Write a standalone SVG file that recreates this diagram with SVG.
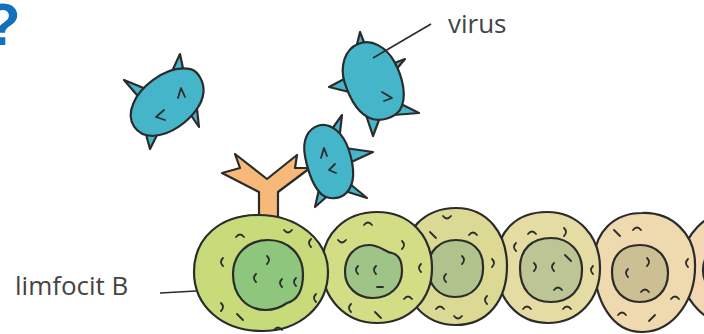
<svg xmlns="http://www.w3.org/2000/svg" xmlns:xlink="http://www.w3.org/1999/xlink" width="704" height="334" viewBox="0 0 704 334">
  <style>
    .ink { stroke: #2b2b2b; stroke-width: 2.2; stroke-linejoin: round; stroke-linecap: round; }
    .mark { fill: none; stroke: #2b2b2b; stroke-width: 1.8; stroke-linecap: round; stroke-linejoin: round; }
    .virus { fill: #45b6ca; }
    .lbl { font-family: "Open Sans", "Liberation Sans", sans-serif; font-size: 26px; fill: #444; }
    .lead { fill: none; stroke: #2b2b2b; stroke-width: 1.6; }
  </style>
  <defs>
    <!-- small hand-drawn granule strokes -->
    <path id="up" d="M-4,2 Q0,-3 4,2"/>
    <path id="dn" d="M-4,-2 Q0,3 4,-2"/>
    <path id="lp" d="M1,-4 Q-3,0 1,4"/>
    <path id="rp" d="M-1,-4 Q3,0 -1,4"/>
    <path id="sl" d="M-3,-3 L3,3"/>
    <path id="bs" d="M3,-3 L-3,3"/>
    <path id="dash" d="M-3,0 L3,0"/>
  </defs>

  <rect width="704" height="334" fill="#ffffff"/>

  <!-- question mark, cropped at the left edge -->
  <g id="question">
    <text x="-16" y="45" font-family="Liberation Sans, Arial, sans-serif" font-weight="bold" font-size="60" fill="#1470b8">?</text>
  </g>

  <!-- row of B lymphocytes, drawn right to left so the left cell is on top -->
  <g id="cell6">
    <ellipse class="ink" cx="737" cy="268" rx="56" ry="58" fill="#f2d7b2"/>
    <ellipse class="ink" cx="732" cy="270" rx="29" ry="28" fill="#d4c29c"/>
  </g>
  <g id="cell5">
    <path class="ink" fill="#efd9ae" d="M594,262 C594,232 614,213 642,213 C672,212 695,234 695,264 C696,298 675,331 643,332 C612,333 594,300 594,262 Z"/>
    <path class="ink" fill="#ccbf94" d="M612,272 C612,254 624,245 640,245 C657,245 668,257 668,273 C668,291 656,302 640,302 C623,302 612,290 612,272 Z"/>
    <g class="mark">
      <use xlink:href="#sl" x="617" y="233"/>
      <use xlink:href="#up" x="637" y="228"/>
      <use xlink:href="#lp" x="687" y="263"/>
      <use xlink:href="#up" x="675" y="297"/>
      <use xlink:href="#up" x="622" y="313"/>
      <use xlink:href="#bs" x="652" y="318"/>
      <use xlink:href="#lp" x="627" y="273"/>
      <use xlink:href="#rp" x="648" y="262"/>
      <use xlink:href="#up" x="645" y="290"/>
    </g>
  </g>
  <g id="cell4">
    <path class="ink" fill="#e4dca3" d="M496,264 C496,232 516,212 547,212 C578,212 600,236 600,268 C600,300 578,323 548,323 C517,323 496,298 496,264 Z"/>
    <path class="ink" fill="#bec595" d="M520,268 C520,249 532,238 551,238 C570,238 582,252 582,270 C582,290 570,302 551,302 C531,302 520,289 520,268 Z"/>
    <g class="mark">
      <use xlink:href="#up" x="532" y="232"/>
      <use xlink:href="#rp" x="565" y="232"/>
      <use xlink:href="#lp" x="515" y="247"/>
      <use xlink:href="#lp" x="592" y="270"/>
      <use xlink:href="#up" x="527" y="307"/>
      <use xlink:href="#up" x="567" y="307"/>
      <use xlink:href="#rp" x="535" y="267"/>
      <use xlink:href="#lp" x="553" y="267"/>
      <use xlink:href="#sl" x="568" y="258"/>
      <use xlink:href="#up" x="558" y="288"/>
    </g>
  </g>
  <g id="cell3">
    <path class="ink" fill="#dcd994" d="M402,265 C402,230 425,208 456,208 C488,208 507,234 507,266 C507,300 488,325 456,325 C423,325 402,298 402,265 Z"/>
    <path class="ink" fill="#b1c38c" d="M428,268 C428,251 440,240 456,240 C472,240 483,250 483,266 C484,285 472,297 455,297 C439,297 428,285 428,268 Z"/>
    <g class="mark">
      <use xlink:href="#dn" x="447" y="218"/>
      <use xlink:href="#sl" x="433" y="235"/>
      <use xlink:href="#up" x="473" y="233"/>
      <use xlink:href="#rp" x="493" y="263"/>
      <use xlink:href="#lp" x="486" y="300"/>
      <use xlink:href="#up" x="440" y="307"/>
      <use xlink:href="#dn" x="458" y="318"/>
      <use xlink:href="#rp" x="463" y="260"/>
      <use xlink:href="#lp" x="445" y="278"/>
    </g>
  </g>
  <g id="cell2">
    <path class="ink" fill="#d3dd86" d="M322,266 C322,234 345,212 377,212 C410,212 432,236 432,268 C432,300 409,323 377,323 C345,323 322,298 322,266 Z"/>
    <path class="ink" fill="#9fc487" d="M345,272 C345,256 355,245 369,245 C380,245 385,252 392,253 C400,255 402,262 402,271 C402,287 389,298 373,298 C357,298 345,287 345,272 Z"/>
    <g class="mark">
      <use xlink:href="#up" x="368" y="223"/>
      <use xlink:href="#dn" x="342" y="242"/>
      <use xlink:href="#rp" x="403" y="245"/>
      <use xlink:href="#lp" x="420" y="268"/>
      <use xlink:href="#up" x="408" y="297"/>
      <use xlink:href="#lp" x="350" y="308"/>
      <use xlink:href="#sl" x="378" y="315"/>
      <use xlink:href="#lp" x="357" y="270"/>
      <use xlink:href="#lp" x="375" y="270"/>
      <use xlink:href="#dash" x="380" y="287"/>
    </g>
  </g>

  <!-- antibody receptor standing on the first cell -->
  <g id="antibody">
    <path class="ink" fill="#f7b97a" d="M259,224 L259,192 L222,173 L240,168 L235,154 L267,179 L297,155 L295,168 L310,168 L278,192 L278,224 Z"/>
  </g>

  <g id="cell1">
    <path class="ink" fill="#c7db7a" d="M194,272 C194,238 220,215 258,215 C298,215 328,240 328,272 C328,306 300,331 262,331 C222,331 194,306 194,272 Z"/>
    <path class="ink" fill="#8fc67e" d="M233,274 C233,254 248,240 268,240 C289,240 303,255 303,274 C303,290 298,300 287,303 C280,308 274,310 266,310 C246,310 233,295 233,274 Z"/>
    <g class="mark">
      <use xlink:href="#up" x="240" y="235"/>
      <use xlink:href="#dn" x="288" y="232"/>
      <use xlink:href="#lp" x="310" y="243"/>
      <use xlink:href="#lp" x="222" y="262"/>
      <use xlink:href="#rp" x="222" y="307"/>
      <use xlink:href="#sl" x="240" y="317"/>
      <use xlink:href="#lp" x="315" y="298"/>
      <use xlink:href="#up" x="278" y="328"/>
      <use xlink:href="#rp" x="268" y="260"/>
      <use xlink:href="#lp" x="255" y="278"/>
      <use xlink:href="#lp" x="281" y="283"/>
      <use xlink:href="#lp" x="295" y="282"/>
    </g>
  </g>

  <!-- viruses: spikes first, body drawn over their bases -->
  <g id="virus1">
    <path class="ink virus" d="M180,54 L168,80 L185,78 Z M124,80 L143,102 L151,91 Z M150,149 L144,127 L161,127 Z M199,127 L184,105 L196,100 Z"/>
    <path class="ink virus" transform="translate(167,102) rotate(-34)" d="M-41,2 C-41,-14 -22,-25 0,-26 C18,-27 30,-22 38,-14 C43,-8 42,4 36,12 C28,22 12,27 -4,27 C-24,27 -41,18 -41,2 Z"/>
    <g class="mark">
      <path d="M164,110 L156,117 L165,120"/>
      <path d="M178,98 L181,88 L185,97"/>
    </g>
  </g>
  <g id="virus2">
    <path class="ink virus" d="M360,32 L354,57 L369,55 Z M405,59 L384,67 L389,78 Z M329,87 L348,77 L349,92 Z M373,136 L365,112 L382,112 Z M419,113 L393,100 L393,115 Z"/>
    <path class="ink virus" transform="translate(373,81) rotate(-22)" d="M0,-40 C15,-40 25,-26 27,-10 C29,8 26,28 14,37 C6,42 -8,41 -16,34 C-26,25 -28,8 -27,-8 C-26,-26 -14,-40 0,-40 Z"/>
    <g class="mark">
      <path d="M382,92 L392,98 L384,101"/>
    </g>
  </g>
  <g id="virus3">
    <path class="ink virus" d="M342,115 L327,136 L339,141 Z M373,152 L345,148 L347,164 Z M367,198 L344,179 L348,192 Z M315,207 L320,185 L332,192 Z"/>
    <path class="ink virus" transform="translate(329,161) rotate(-15)" d="M0,-37 C13,-36 21,-22 22,-6 C23,12 20,28 9,35 C1,40 -10,38 -16,30 C-22,20 -23,5 -22,-10 C-21,-27 -12,-37 0,-37 Z"/>
    <g class="mark">
      <path d="M321,158 L324,148 L327,156"/>
      <path d="M335,164 L329,170 L336,173"/>
    </g>
  </g>

  <!-- leader lines -->
  <g id="connectors">
    <path class="lead" d="M373,58 L431,24"/>
    <path class="lead" d="M160,293 L196,291"/>
  </g>

  <g id="label-virus">
    <text class="lbl" x="448" y="33">virus</text>
  </g>
  <g id="label-limfocit">
    <text class="lbl" x="15" y="295">limfocit B</text>
  </g>
</svg>
